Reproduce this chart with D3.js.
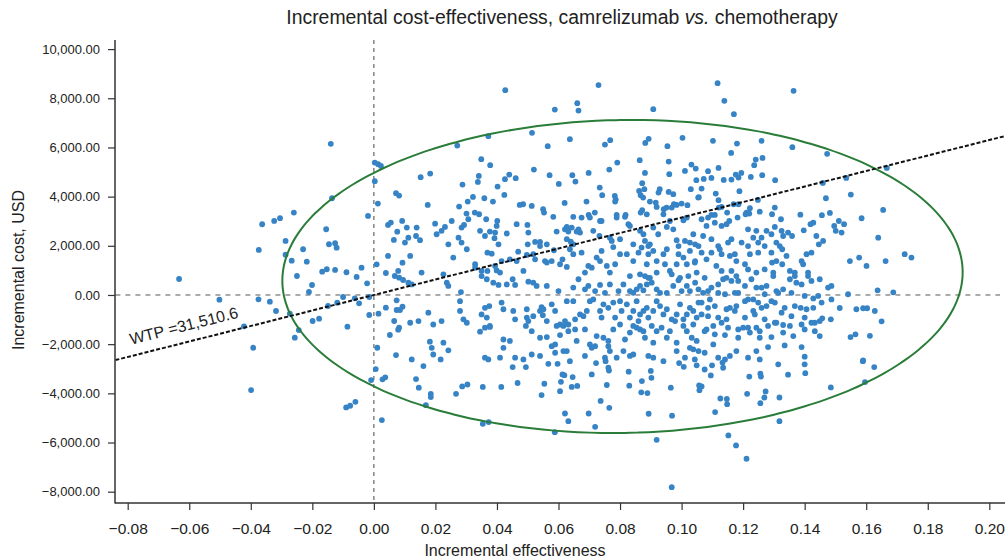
<!DOCTYPE html>
<html>
<head>
<meta charset="utf-8">
<script src="https://cdn.jsdelivr.net/npm/d3@7/dist/d3.min.js"></script>
<style>
	body { margin: 0; background: #fff; }
	svg { display: block; font-family: "Liberation Sans", Arial, Helvetica, sans-serif; }
</style>
</head>
<body>
<svg id="chart" width="1005" height="560"></svg>
<script>
// --- data ---
const xTicks = [-0.08, -0.06, -0.04, -0.02, 0, 0.02, 0.04, 0.06, 0.08, 0.10, 0.12, 0.14, 0.16, 0.18, 0.20];
const yTicks = [-8000, -6000, -4000, -2000, 0, 2000, 4000, 6000, 8000, 10000];
const xExtent = [-0.084, 0.2055];
const yExtent = [-8470, 10370];
const wtp = 31510.6;
// confidence ellipse: centre, half widths, small tilt
const ellipseCentre = [0.0808, 752];
const ellipseRadii = [0.1105, 6365];
const ellipseShear = 0.003;

// probabilistic sensitivity draws [incremental effectiveness, incremental cost]
const psaDraws = [
	// left of the origin and around x = 0
	[-0.014,6146],[0.0003,5385],[0.0014,5320],[0.0023,5250],[0.0003,4627],[0.0072,4139],[0.0082,4042],[-0.0136,3935],[0.0013,3716],[-0.026,3350],[-0.0019,3215],
	[-0.0363,2877],[-0.0324,3012],[-0.0305,3122],[0.0046,2849],[0.0055,2943],[0.0092,3012],[0.0076,2576],[-0.0155,2674],[-0.0287,2198],[-0.0146,2063],[-0.0126,2104],[-0.0121,1925],[0.0065,2238],[-0.0374,1831],[-0.023,1860],[-0.0287,1640],[-0.0267,1396],[-0.0218,1355],[0.0046,1587],[0.0009,1249],[0.0093,1315],[-0.0168,948],[-0.0153,1046],[-0.0126,1018],[-0.0089,924],[-0.004,1111],[-0.0056,733],[-0.025,773],[-0.0633,651],[0.0039,895],[0.0068,773],[0.0082,704],[0.0095,610],[0.0079,977],[-0.0022,476],[-0.0201,407],[-0.0211,122],[-0.0502,-191],[-0.0375,-175],[-0.0338,-273],[-0.0318,-651],[-0.0273,-761],[-0.01,-81],[-0.0062,-134],[-0.0048,-338],[-0.0015,-81],[-0.0119,-313],[-0.0149,-448],[-0.0015,-814],[0.0015,-761],[0.0039,-517],[0.0074,-216],[0.0074,-611],[0.0085,-611],[0.0093,-476],[0.0066,-1058],[0.0082,-1331],[0.0079,-1412],[0.0052,-1628],[-0.0199,-1058],[-0.0178,-965],[-0.0086,-1290],[-0.0244,-1425],[-0.0422,-1274],[-0.0257,-1737],[-0.0392,-2145],[0.0011,-2145],[0.0072,-2442],
	[0.0006,-3012],[-0.0009,-3460],[0.0028,-3431],[0.0037,-3350],[-0.0399,-3867],[-0.009,-4571],[-0.0077,-4505],[-0.006,-4343],[0.0026,-5088],
	// upper middle
	[0.0427,8331],[0.073,8535],[0.0588,7542],[0.0661,7802],[0.0665,7501],[0.0908,7558],[0.0514,6593],[0.0372,6459],[0.0271,6077],[0.0565,6052],[0.0637,6337],[0.0751,6117],[0.0768,6296],[0.0882,6186],[0.0893,6349],[0.0954,6052],[0.1003,6390],[0.0152,4790],[0.0183,4937],[0.0175,3663],[0.0288,4489],[0.0349,5523],[0.0378,5279],[0.0341,4843],[0.0338,4599],[0.0277,3594],[0.0305,3797],[0.0322,3989],[0.0359,3935],[0.0387,3797],[0.0402,4408],[0.0424,4070],[0.0426,4709],[0.044,4896],[0.0461,4750],[0.052,5100],[0.0474,3663],[0.0485,3691],[0.0513,3622],[0.0571,4872],[0.0601,4518],[0.062,3744],[0.0645,4872],[0.0655,4611],[0.0698,4965],[0.0691,3797],[0.0734,4367],[0.0742,4058],[0.0765,5100],[0.0791,5385],[0.0783,4029],[0.0786,3879],[0.0784,3797],[0.055,3488],[0.0553,3350],[0.0864,5482],[0.0881,4965],[0.0872,4546],[0.0862,4233],[0.0879,4302],[0.0867,4058],[0.0875,3960],[0.0897,3797],[0.0916,3757],[0.0919,3582],[0.0925,4164],[0.0929,4302],[0.0958,5425],[0.096,4912],[0.0958,4192],[0.0973,4098],[0.0942,3488],[0.0951,3553],[0.0968,3553],[0.0975,3691],[0.0984,3663],[0.1,3716],[0.1019,3651],[0.1032,5303],[0.1046,5140],[0.1011,5047],[0.1048,4668],[0.103,4302],[0.1054,3960],[0.0872,3447],[0.0867,3350],[0.0718,3350],[0.0698,3256],[0.0818,3256],[0.0789,3256],[0.0301,3309],[0.0328,3350],[0.0342,3284],
	// upper right
	[0.1117,8616],[0.1139,7896],[0.117,7355],[0.1364,8303],[0.1102,6268],[0.118,6158],[0.126,6268],[0.1161,5779],[0.1241,5507],[0.1236,5279],[0.1263,5576],[0.136,6011],[0.1473,5739],[0.1072,4721],[0.1086,5035],[0.1097,4762],[0.112,5169],[0.1137,4681],[0.1162,4693],[0.1176,4896],[0.1185,4774],[0.1194,4965],[0.1225,4803],[0.1262,4872],[0.1304,4668],[0.1065,4326],[0.1056,3976],[0.1111,4123],[0.112,3854],[0.1188,4221],[0.1169,3691],[0.1185,3691],[0.1248,3867],[0.1303,3553],[0.1121,3553],[0.113,3582],[0.1148,3350],[0.1222,3529],[0.1211,3350],[0.122,3309],[0.1208,3284],[0.1254,3390],[0.1294,3284],[0.1459,4558],[0.1535,4762],[0.1667,5169],[0.1469,3935],[0.155,4082],[0.1655,3460],[0.1386,3268],[0.1456,3244],[0.1482,3337],[0.1108,3256],[0.1097,3256],
	// centre band
	[0.0107,2740],[0.0139,2740],[0.0137,2400],[0.015,2230],[0.0112,2330],[0.0101,2130],[0.0199,2900],[0.0204,2470],[0.022,2610],[0.0231,2770],[0.0253,3010],[0.0275,2330],[0.0285,2740],[0.0293,2850],[0.0307,3080],[0.0345,2610],[0.0365,3080],[0.0361,2400],[0.0377,2580],[0.0394,2540],[0.0399,2810],[0.0401,3010],[0.0392,2310],[0.0405,2060],[0.0432,2500],[0.0464,2880],[0.0499,2850],[0.0502,2540],[0.05,2060],[0.0524,2160],[0.054,2160],[0.0562,2060],[0.0583,3180],[0.0594,2580],[0.0621,2670],[0.0627,2770],[0.0632,2580],[0.0648,3180],[0.0643,2740],[0.0659,2580],[0.0665,2670],[0.067,2540],[0.0627,2270],[0.064,2170],[0.0648,2060],[0.0675,3150],[0.0702,3150],[0.0735,3010],[0.074,3010],[0.0713,2610],[0.0733,2400],[0.0767,2330],[0.0773,2200],[0.0789,3150],[0.08,2270],[0.0816,3180],[0.0827,2880],[0.0832,2810],[0.0843,2060],[0.0865,2610],[0.0876,2470],[0.0881,2200],[0.0887,3280],[0.0892,1990],[0.0908,2740],[0.0924,2470],[0.0941,3280],[0.0952,2770],[0.0962,3010],[0.0973,2670],[0.0984,2230],[0.099,1990],[0.1006,3040],[0.1017,3150],[0.1011,2200],[0.1027,2130],[0.1038,2470],[0.1044,2060],[0.1055,1990],[0.0897,2060],[0.087,1930],
	[0.0118,1590],[0.0155,910],[0.0226,840],[0.0242,2060],[0.0258,1520],[0.0285,2130],[0.0302,1860],[0.0329,1250],[0.0329,1110],[0.035,770],[0.0369,1720],[0.0383,1680],[0.0394,1180],[0.0399,1000],[0.041,910],[0.035,980],[0.0369,980],[0.0415,1380],[0.0442,1450],[0.0469,1760],[0.0464,1380],[0.0486,980],[0.0497,1630],[0.0518,1660],[0.0524,1450],[0.054,1990],[0.0556,1380],[0.0562,1320],[0.0578,1380],[0.0585,1820],[0.0605,1250],[0.0613,1450],[0.0627,1140],[0.0637,1860],[0.0648,1660],[0.0675,1720],[0.0686,910],[0.0697,1180],[0.0708,1110],[0.0724,1520],[0.0735,1380],[0.074,1790],[0.0757,1180],[0.0767,910],[0.0784,1250],[0.0778,1950],[0.08,1660],[0.0822,1660],[0.0832,770],[0.0843,1380],[0.086,1720],[0.0865,840],[0.0887,1250],[0.0892,1660],[0.0908,1790],[0.0919,1380],[0.0941,1660],[0.0946,1250],[0.0952,1860],[0.0962,980],[0.0968,840],[0.0984,1250],[0.099,1660],[0.1006,1520],[0.1017,1250],[0.1027,1790],[0.1044,1380],[0.1049,910],[0.1022,770],[0.0995,700],[0.0919,910],[0.0892,700],[0.0881,770],
	[0.0112,500],[0.0123,430],[0.0237,500],[0.0242,370],[0.0283,120],[0.0367,640],[0.0388,500],[0.0405,410],[0.0432,430],[0.0451,640],[0.0459,410],[0.0502,540],[0.0518,500],[0.0529,370],[0.0562,370],[0.06,160],[0.0648,300],[0.0665,640],[0.0686,230],[0.0697,370],[0.0719,160],[0.0735,410],[0.0751,90],[0.0767,430],[0.0795,160],[0.0811,430],[0.0832,160],[0.0843,90],[0.0854,230],[0.0865,370],[0.0876,190],[0.0887,430],[0.0897,700],[0.0903,500],[0.0919,230],[0.093,90],[0.0952,90],[0.0973,370],[0.099,600],[0.1,160],[0.1017,370],[0.1027,160],[0.1044,500],[0.1055,230],
	[0.0118,-1130],[0.0145,-1060],[0.0177,-720],[0.0193,-1200],[0.022,-1060],[0.028,-250],[0.028,-650],[0.0291,-990],[0.0302,-1130],[0.035,-790],[0.0361,-520],[0.0375,-450],[0.0367,-920],[0.0377,-1260],[0.0415,-310],[0.0421,-580],[0.0453,-650],[0.0459,-990],[0.0497,-920],[0.0497,-580],[0.0518,-860],[0.054,-650],[0.0545,-490],[0.0551,-580],[0.0549,-820],[0.0562,-1060],[0.0578,-380],[0.0589,-650],[0.0594,-1260],[0.0605,-1200],[0.0621,-1060],[0.0627,-250],[0.0632,-1200],[0.0648,-250],[0.0654,-990],[0.067,-790],[0.0681,-860],[0.0692,-650],[0.0702,-250],[0.0713,-180],[0.0735,-650],[0.074,-920],[0.0746,-380],[0.0762,-520],[0.0778,-310],[0.0784,-920],[0.08,-250],[0.0805,-650],[0.0822,-380],[0.0832,-920],[0.0843,-650],[0.0854,-250],[0.086,-1060],[0.0865,-790],[0.0876,-650],[0.0887,-520],[0.0892,-920],[0.0908,-650],[0.0919,-250],[0.093,-450],[0.0941,-790],[0.0952,-580],[0.0968,-990],[0.0984,-790],[0.0995,-380],[0.1006,-990],[0.1017,-790],[0.1027,-520],[0.1038,-650],[0.1049,-920],[0.1055,-310],
	[0.0182,-1900],[0.0226,-1940],[0.0345,-1490],[0.0361,-1330],[0.0377,-1300],[0.0421,-1810],[0.0442,-1870],[0.0494,-1260],[0.0502,-1060],[0.0513,-1470],[0.054,-1740],[0.0562,-1710],[0.0589,-2010],[0.0605,-1630],[0.0616,-1260],[0.0632,-1470],[0.0654,-1400],[0.0659,-1870],[0.0686,-1400],[0.0702,-2010],[0.0724,-1670],[0.0746,-1740],[0.0762,-1870],[0.0778,-1400],[0.08,-1200],[0.0816,-1810],[0.0832,-1530],[0.0843,-1260],[0.0854,-1330],[0.0865,-1400],[0.0876,-1470],[0.0881,-1740],[0.0903,-1260],[0.0908,-1940],[0.0919,-1470],[0.0935,-1330],[0.0952,-1740],[0.0962,-1470],[0.0979,-1060],[0.0984,-1940],[0.1006,-1260],[0.1017,-1470],[0.1033,-1740],[0.1049,-1870],[0.1038,-1200],
	[0.0123,-2620],[0.0161,-2890],[0.0188,-2150],[0.0193,-2420],[0.0217,-2620],[0.0242,-2250],[0.0361,-2550],[0.0372,-2620],[0.041,-2550],[0.0421,-2150],[0.0459,-2550],[0.0486,-2620],[0.0513,-2420],[0.054,-2480],[0.0578,-2080],[0.0589,-2350],[0.0616,-2280],[0.0627,-2280],[0.0637,-2690],[0.0686,-2480],[0.0708,-2150],[0.0719,-2080],[0.0751,-2550],[0.0762,-2080],[0.0767,-2280],[0.0789,-2550],[0.0811,-2280],[0.0832,-2480],[0.0843,-2420],[0.0892,-2480],[0.0908,-2550],[0.0941,-2690],[0.0984,-2280],[0.1011,-2550],[0.1027,-2150],[0.1038,-2210],[0.1055,-2280],
	// lower middle
	[0.0137,-3420],[0.0146,-3770],[0.0185,-4020],[0.0185,-4150],[0.0169,-4480],[0.0267,-4020],[0.0287,-3720],[0.0304,-3640],[0.0354,-3740],[0.0414,-3740],[0.0354,-5240],[0.0373,-5170],[0.0451,-2930],[0.0467,-3580],[0.0494,-2930],[0.0567,-2800],[0.0597,-2800],[0.0554,-3610],[0.0545,-4070],[0.0588,-5580],[0.0608,-3530],[0.0605,-3910],[0.0613,-3230],[0.0619,-3260],[0.0643,-3740],[0.0646,-3340],[0.0661,-3700],[0.0621,-4820],[0.0632,-5130],[0.0708,-3230],[0.0698,-4820],[0.0719,-5360],[0.0722,-2770],[0.0753,-2690],[0.0762,-2960],[0.0764,-3070],[0.0757,-3660],[0.0737,-4310],[0.0765,-4590],[0.0828,-3120],[0.083,-3690],[0.0871,-3500],[0.0869,-3960],[0.0889,-3990],[0.09,-3090],[0.0902,-3370],[0.0893,-4830],[0.0919,-5890],[0.0965,-3770],[0.0969,-4910],[0.0968,-7815],[0.0992,-2770],[0.1007,-2920],[0.1049,-2860],[0.1057,-3680],[0.1058,-3870],
	// lower right
	[0.1075,-3030],[0.1099,-2860],[0.1095,-3270],[0.1133,-2750],[0.1135,-2960],[0.1065,-3720],[0.122,-3320],[0.1256,-3200],[0.1258,-3320],[0.1346,-3240],[0.14,-2820],[0.1402,-3180],[0.1213,-4020],[0.1126,-4210],[0.1147,-4230],[0.1148,-4440],[0.1256,-4400],[0.1269,-4170],[0.1273,-3920],[0.1318,-4170],[0.1109,-4760],[0.1318,-5130],[0.1152,-5710],[0.1177,-6120],[0.1211,-6660],[0.1485,-3760],[0.1589,-2690],[0.1596,-3540],[0.1626,-2930],
	// right band
	[0.1065,3080],[0.1086,3150],[0.1081,2810],[0.1108,2940],[0.113,2810],[0.1146,2880],[0.1155,3010],[0.1182,3150],[0.1216,2670],[0.1243,2610],[0.1276,2610],[0.1303,2770],[0.1323,3080],[0.1325,2610],[0.1346,2540],[0.1359,2400],[0.1397,2630],[0.1419,2880],[0.1428,2940],[0.1438,2400],[0.146,2200],[0.1446,2060],[0.1496,2810],[0.1511,3010],[0.1528,2880],[0.1501,2610],[0.152,2540],[0.1585,3120],[0.1639,2330],
	[0.107,2400],[0.1097,2270],[0.1119,1990],[0.1124,1860],[0.1151,2130],[0.1162,2270],[0.1195,2130],[0.1216,1990],[0.1233,2330],[0.1249,2130],[0.127,1990],[0.1308,2130],[0.1319,1990],[0.1327,1860],[0.1341,1590],[0.1292,1720],[0.1249,1720],[0.1222,1660],[0.1173,1660],[0.1157,1590],[0.113,1660],[0.1097,1720],[0.1065,1720],[0.1292,2470],[0.126,2330],[0.133,2400],
	[0.1043,1320],[0.1081,1450],[0.1113,1180],[0.113,980],[0.1162,980],[0.1178,1380],[0.1206,1250],[0.1216,1040],[0.1243,910],[0.127,1040],[0.1294,1320],[0.1308,1380],[0.1327,1250],[0.1298,910],[0.1352,980],[0.1368,910],[0.139,1380],[0.1406,1660],[0.1422,1720],[0.1395,1250],[0.1411,910],[0.1547,1380],[0.1577,1520],[0.1601,1180],[0.1663,1380],[0.1725,1660],[0.1747,1520],
	[0.1075,700],[0.1097,300],[0.1119,430],[0.1135,640],[0.1146,700],[0.1162,570],[0.1178,770],[0.1184,570],[0.1206,370],[0.1227,640],[0.1243,300],[0.126,300],[0.1276,370],[0.1298,770],[0.1308,160],[0.133,230],[0.1352,640],[0.1368,770],[0.1373,500],[0.139,430],[0.1411,770],[0.1422,570],[0.1449,640],[0.1476,300],[0.1487,370],[0.1444,-40],[0.1428,-140],[0.14,-40],[0.1357,90],[0.1314,90],[0.127,30],[0.1233,-180],[0.1216,-180],[0.1184,90],[0.1173,90],[0.1141,30],[0.1119,90],[0.1092,-180],[0.1086,160],[0.107,90],[0.1541,30],[0.1637,190],[0.1688,110],[0.1487,-180],
	[0.1065,-310],[0.1086,-520],[0.1108,-450],[0.1146,-580],[0.1157,-520],[0.1178,-450],[0.1206,-250],[0.1233,-650],[0.1249,-310],[0.126,-520],[0.1276,-450],[0.1292,-250],[0.1303,-310],[0.1335,-520],[0.1368,-450],[0.1387,-520],[0.1406,-580],[0.1428,-520],[0.1455,-310],[0.14,-920],[0.1357,-860],[0.1325,-720],[0.1303,-1130],[0.127,-990],[0.1238,-790],[0.1206,-920],[0.1173,-650],[0.1146,-990],[0.1119,-920],[0.1086,-860],[0.1065,-790],[0.1514,-530],[0.1568,-580],[0.159,-540],[0.1603,-540],[0.1628,-650],[0.165,-1070],[0.1485,-990],[0.1457,-950],[0.1449,-1060],[0.1433,-1130],
	[0.1081,-1400],[0.1103,-1260],[0.113,-1130],[0.1151,-1330],[0.1184,-1400],[0.12,-1330],[0.1216,-1330],[0.1243,-1330],[0.1254,-1470],[0.1281,-1260],[0.1308,-1130],[0.133,-1220],[0.1352,-1260],[0.139,-1200],[0.14,-1400],[0.1422,-1130],[0.1433,-1470],[0.1449,-1670],[0.1363,-1670],[0.133,-1530],[0.1292,-1710],[0.1254,-1740],[0.1222,-1530],[0.1184,-1740],[0.1141,-1630],[0.1108,-1600],[0.1075,-1470],[0.1549,-1710],[0.1565,-1600],[0.1612,-1660],
	[0.1075,-2350],[0.1103,-2010],[0.1119,-2550],[0.1141,-2620],[0.1157,-2480],[0.1178,-2280],[0.1216,-2550],[0.1243,-2280],[0.1254,-2620],[0.1281,-2120],[0.1335,-2050],[0.139,-2120],[0.14,-2510],[0.1043,-2620],[0.1314,-2820],[0.159,-2660]
];

// --- drawing ---
const svg = d3.select("#chart");
const x = d3.scaleLinear().domain([-0.08, 0.20]).range([127.7, 989.3]);
const y = d3.scaleLinear().domain([-8000, 10000]).range([491.7, 49.1]);
const axisColor = "#333";

// title
const title = svg.append("text")
		.attr("x", 562).attr("y", 24)
		.attr("text-anchor", "middle")
		.attr("font-size", 19.4)
		.attr("fill", "#222");
title.append("tspan").text("Incremental cost-effectiveness, camrelizumab ");
title.append("tspan").attr("font-style", "italic").text("vs.");
title.append("tspan").text(" chemotherapy");

// reference lines through the origin
svg.append("line")
		.attr("x1", x(0)).attr("x2", x(0))
		.attr("y1", y(yExtent[1])).attr("y2", y(yExtent[0]))
		.attr("stroke", "#666").attr("stroke-width", 1.2)
		.attr("stroke-dasharray", "4,4");
svg.append("line")
		.attr("x1", x(xExtent[0])).attr("x2", x(0.2035))
		.attr("y1", y(0)).attr("y2", y(0))
		.attr("stroke", "#555").attr("stroke-width", 1)
		.attr("stroke-dasharray", "5,5");

// simulated pairs
svg.append("g")
	.selectAll("circle")
	.data(psaDraws)
	.join("circle")
		.attr("cx", d => x(d[0]))
		.attr("cy", d => y(d[1]))
		.attr("r", 2.9)
		.attr("fill", "#3683c5");

// 95% ellipse
const ellipsePts = d3.range(0, 360, 2).map(deg => {
	const t = deg * Math.PI / 180;
	return [
		ellipseCentre[0] + ellipseRadii[0] * Math.cos(t) + ellipseShear * Math.sin(t),
		ellipseCentre[1] + ellipseRadii[1] * Math.sin(t)
	];
});
svg.append("path")
		.attr("d", d3.line().x(d => x(d[0])).y(d => y(d[1])).curve(d3.curveCardinalClosed)(ellipsePts))
		.attr("fill", "none")
		.attr("stroke", "#2a7d39")
		.attr("stroke-width", 2);

// willingness-to-pay threshold
const wtpLine = [[xExtent[0], wtp * xExtent[0]], [xExtent[1], wtp * xExtent[1]]];
svg.append("line")
		.attr("x1", x(wtpLine[0][0])).attr("y1", y(wtpLine[0][1]))
		.attr("x2", x(wtpLine[1][0])).attr("y2", y(wtpLine[1][1]))
		.attr("stroke", "#111").attr("stroke-width", 2)
		.attr("stroke-dasharray", "4,2");

const labelX = -0.078,
			angle = Math.atan2(y(wtp * 0.1) - y(0), x(0.1) - x(0)) * 180 / Math.PI;
svg.append("text")
		.attr("transform", "translate(" + x(labelX) + "," + y(wtp * labelX) + ") rotate(" + angle + ")")
		.attr("y", -11)
		.attr("font-size", 16)
		.attr("fill", "#222")
		.text("WTP =" + d3.format(",.1f")(wtp));

// axes
const yAxis = svg.append("g")
		.attr("transform", "translate(115,0)")
		.call(d3.axisLeft(y).tickValues(yTicks).tickFormat(d3.format(",.2f")).tickSize(7).tickPadding(8).tickSizeOuter(0));
const xAxis = svg.append("g")
		.attr("transform", "translate(0,503)")
		.call(d3.axisBottom(x).tickValues(xTicks).tickFormat(d3.format(".2f")).tickSize(7).tickPadding(13).tickSizeOuter(0));
[yAxis, xAxis].forEach(g => {
	g.select(".domain").remove();
	g.selectAll(".tick line").attr("stroke", axisColor).attr("stroke-width", 1.2);
	g.selectAll(".tick text").attr("fill", "#222").attr("font-family", null);
});
yAxis.attr("font-size", 13);
xAxis.attr("font-size", 15.5);

// spines
svg.append("line")
		.attr("x1", 115).attr("x2", 115)
		.attr("y1", y(yExtent[1])).attr("y2", 503.6)
		.attr("stroke", axisColor).attr("stroke-width", 1.5);
svg.append("line")
		.attr("x1", 115).attr("x2", x(xExtent[1]))
		.attr("y1", 503).attr("y2", 503)
		.attr("stroke", axisColor).attr("stroke-width", 1.5);

// axis titles
svg.append("text")
		.attr("x", 515).attr("y", 556)
		.attr("text-anchor", "middle")
		.attr("font-size", 16)
		.attr("fill", "#222")
		.text("Incremental effectiveness");
svg.append("text")
		.attr("transform", "translate(24,270) rotate(-90)")
		.attr("text-anchor", "middle")
		.attr("font-size", 16)
		.attr("fill", "#222")
		.text("Incremental cost, USD");
</script>
</body>
</html>
